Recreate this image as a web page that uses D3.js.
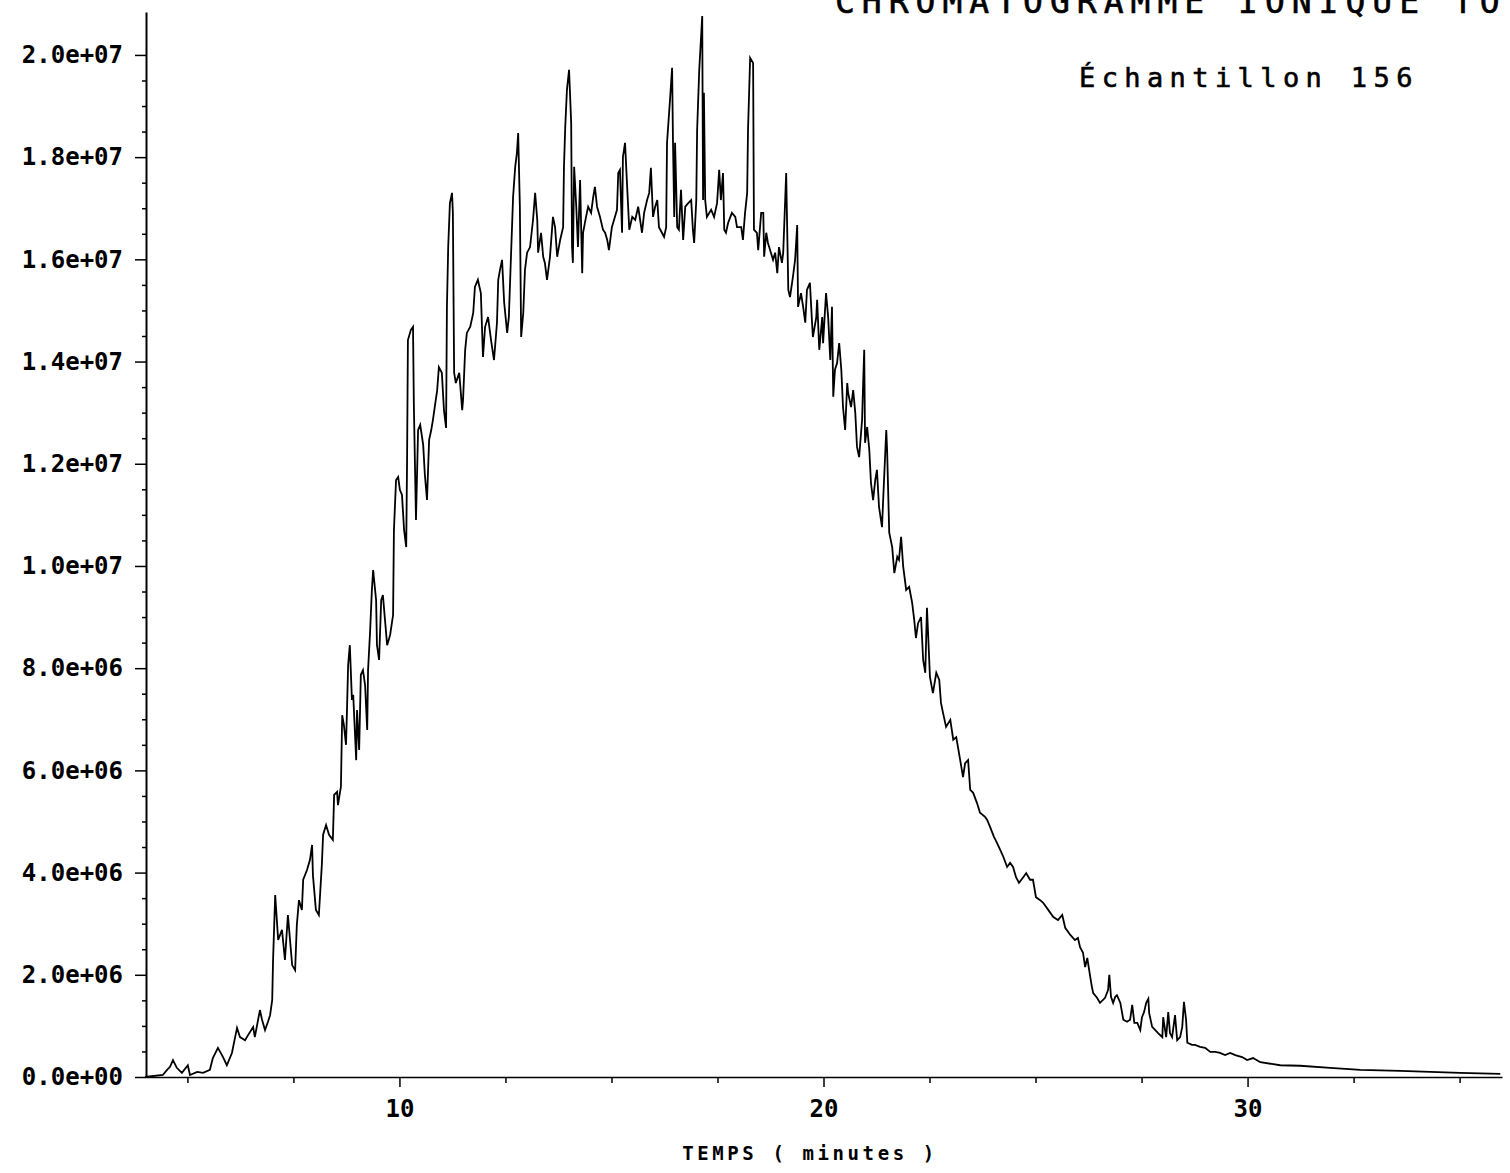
<!DOCTYPE html>
<html>
<head>
<meta charset="utf-8">
<script src="https://cdn.jsdelivr.net/npm/d3@7"></script>
<style>
  html, body { margin: 0; padding: 0; background: #fff; overflow: hidden; }
  svg { display: block; }
</style>
</head>
<body>
<svg id="chart" width="1510" height="1173"></svg>
<script>
// ---------------- DATA ----------------
const titleText = "CHROMATOGRAMME IONIQUE TOTAL";
const sampleText = "Échantillon 156";
const xAxisTitle = "TEMPS ( minutes )";

// retention time (minutes)
const timeMin = [
 4.00,4.42,4.52,4.59,4.66,4.75,4.87,5.01,5.06,5.23,5.37,5.53,5.60,5.72,5.84,5.93,6.05,6.17,6.24,6.36,
 6.43,6.55,6.59,6.71,6.76,6.83,6.90,6.95,7.00,7.02,7.07,7.14,7.23,7.30,7.37,7.47,7.54,7.58,7.63,7.70,
 7.73,7.82,7.89,7.94,7.96,8.03,8.10,8.17,8.20,8.27,8.34,8.43,8.46,8.53,8.55,8.62,8.65,8.69,8.74,8.76,
 8.79,8.83,8.88,8.91,8.98,9.00,9.05,9.09,9.14,9.19,9.24,9.26,9.31,9.35,9.38,9.45,9.47,9.52,9.57,9.61,
 9.66,9.71,9.78,9.85,9.87,9.92,9.97,10.01,10.06,10.11,10.16,10.18,10.20,10.27,10.32,10.34,10.39,10.44,10.49,10.56,
 10.60,10.65,10.70,10.75,10.79,10.89,10.93,11.00,11.05,11.10,11.12,11.15,11.19,11.24,11.26,11.29,11.33,11.41,11.48,11.50,
 11.55,11.59,11.67,11.74,11.78,11.85,11.92,11.97,12.02,12.09,12.16,12.23,12.30,12.33,12.37,12.42,12.47,12.54,12.58,12.63,
 12.68,12.73,12.77,12.80,12.84,12.87,12.92,12.96,13.01,13.08,13.15,13.20,13.25,13.27,13.34,13.39,13.43,13.48,13.55,13.62,
 13.67,13.72,13.79,13.86,13.88,13.91,13.95,14.00,14.05,14.07,14.09,14.12,14.17,14.21,14.26,14.31,14.33,14.40,14.45,14.52,
 14.57,14.61,14.66,14.73,14.80,14.85,14.90,14.94,15.01,15.06,15.13,15.16,15.20,15.25,15.27,15.32,15.37,15.42,15.49,15.56,
 15.63,15.72,15.77,15.84,15.89,15.93,15.98,16.03,16.08,16.12,16.19,16.24,16.29,16.31,16.38,16.43,16.45,16.48,16.50,16.55,
 16.59,16.64,16.69,16.74,16.81,16.88,16.92,16.95,17.00,17.02,17.07,17.14,17.16,17.18,17.21,17.25,17.35,17.42,17.49,17.54,
 17.58,17.63,17.66,17.70,17.75,17.84,17.92,17.96,18.06,18.10,18.15,18.20,18.22,18.27,18.34,18.36,18.43,18.46,18.53,18.58,
 18.60,18.65,18.69,18.76,18.81,18.86,18.91,18.95,19.02,19.05,19.12,19.17,19.21,19.28,19.33,19.38,19.40,19.47,19.52,19.57,
 19.61,19.68,19.73,19.75,19.83,19.85,19.90,19.97,19.99,20.06,20.11,20.16,20.20,20.23,20.27,20.32,20.37,20.42,20.46,20.51,
 20.56,20.58,20.65,20.70,20.75,20.79,20.84,20.91,20.93,20.96,20.98,21.03,21.08,21.12,21.17,21.22,21.26,21.31,21.38,21.41,
 21.48,21.50,21.55,21.62,21.67,21.74,21.78,21.83,21.88,21.95,22.02,22.09,22.14,22.18,22.23,22.30,22.35,22.40,22.44,22.47,
 22.51,22.58,22.66,22.73,22.77,22.82,22.89,22.99,23.06,23.13,23.17,23.25,23.29,23.34,23.41,23.46,23.53,23.62,23.69,23.81,
 23.86,23.93,24.02,24.09,24.17,24.24,24.33,24.40,24.47,24.54,24.61,24.71,24.78,24.87,24.94,25.01,25.11,25.18,25.30,25.42,
 25.53,25.63,25.70,25.82,25.93,26.00,26.05,26.12,26.17,26.22,26.29,26.33,26.36,26.45,26.52,26.64,26.71,26.74,26.78,26.83,
 26.88,26.92,27.00,27.07,27.16,27.23,27.28,27.33,27.40,27.47,27.51,27.56,27.61,27.66,27.68,27.75,27.82,27.89,27.99,28.01,
 28.08,28.13,28.17,28.22,28.29,28.34,28.41,28.46,28.50,28.55,28.58,28.69,28.76,28.88,29.00,29.12,29.24,29.35,29.47,29.59,
 29.71,29.87,29.99,30.13,30.30,30.77,31.24,31.95,32.66,33.60,34.31,35.01,35.96
];

// total ion current, in units of 1e6 counts
const intensityE6 = [
 0.00,0.04,0.14,0.20,0.33,0.18,0.08,0.23,0.04,0.10,0.08,0.14,0.37,0.57,0.39,0.23,0.47,0.96,0.78,0.72,
 0.82,0.98,0.78,1.31,1.12,0.92,1.08,1.21,1.51,2.29,3.56,2.68,2.88,2.29,3.17,2.19,2.09,2.97,3.46,3.27,
 3.86,4.05,4.25,4.54,3.95,3.27,3.17,4.15,4.74,4.93,4.74,4.64,5.52,5.58,5.32,5.68,7.08,6.89,6.50,7.08,
 8.06,8.45,7.38,7.48,6.20,7.18,6.40,7.87,7.96,7.67,6.79,7.96,8.75,9.53,9.92,9.33,8.45,8.16,9.33,9.43,
 8.94,8.45,8.65,9.04,10.70,11.68,11.74,11.49,11.39,10.70,10.37,12.07,14.42,14.62,14.68,13.15,10.90,12.66,12.76,12.37,
 11.78,11.29,12.47,12.66,12.86,13.44,13.89,13.78,13.05,12.70,15.07,16.24,17.10,17.30,16.91,13.78,13.58,13.78,13.05,13.25,
 14.23,14.56,14.68,14.95,15.46,15.60,15.34,14.09,14.68,14.87,14.42,14.03,14.76,15.60,15.79,15.99,15.15,14.56,14.87,16.05,
 17.22,17.81,18.08,18.47,17.03,14.48,14.95,15.79,16.13,16.24,16.77,17.30,16.77,16.13,16.52,16.05,15.93,15.60,16.05,16.83,
 16.63,16.05,16.38,16.63,17.81,18.59,19.32,19.71,18.67,16.24,15.93,17.81,17.03,16.24,17.55,15.73,16.52,16.83,17.03,16.91,
 17.22,17.42,17.03,16.83,16.58,16.52,16.38,16.18,16.63,16.77,16.97,17.69,17.75,16.52,18.00,18.28,17.42,16.58,16.83,16.77,
 17.03,16.52,16.91,17.16,17.30,17.79,16.83,17.03,17.16,16.63,16.52,16.44,16.63,18.28,19.12,19.75,18.34,16.83,18.28,16.63,
 16.58,17.36,16.38,17.03,17.10,17.16,16.58,16.32,17.16,18.53,19.71,20.76,17.16,19.26,17.16,16.83,16.97,16.83,17.10,17.75,
 17.16,17.69,16.58,16.52,16.71,16.91,16.83,16.63,16.63,16.38,16.91,17.30,18.53,19.94,19.84,16.58,16.52,16.18,16.91,16.91,
 16.05,16.52,16.32,16.13,15.99,16.13,15.73,16.24,15.93,16.13,17.69,15.40,15.26,15.66,15.99,16.67,15.07,15.34,15.07,14.76,
 15.40,15.54,14.76,14.48,14.87,15.21,14.23,14.87,14.36,15.34,14.87,14.03,15.07,13.31,13.84,13.97,14.36,13.84,13.11,12.66,
 13.58,13.39,13.11,13.44,12.99,12.33,12.13,12.86,13.44,14.23,12.41,12.72,12.27,11.62,11.29,11.68,11.88,11.15,10.76,11.35,
 12.66,12.27,10.65,10.37,9.86,10.18,10.12,10.57,9.98,9.53,9.59,9.28,8.94,8.59,8.88,9.00,8.16,7.91,9.18,8.61,
 7.83,7.51,7.91,7.77,7.32,7.12,6.85,6.99,6.60,6.65,6.46,6.07,5.87,6.14,6.20,5.62,5.56,5.36,5.17,5.09,
 5.03,4.89,4.70,4.58,4.44,4.31,4.11,4.19,4.11,3.91,3.80,3.91,3.99,3.86,3.86,3.52,3.46,3.41,3.27,3.13,
 3.07,3.17,2.92,2.78,2.68,2.72,2.54,2.43,2.15,2.33,1.96,1.76,1.64,1.55,1.45,1.55,1.70,2.00,1.57,1.45,
 1.57,1.60,1.45,1.12,1.08,1.12,1.41,1.06,1.06,0.92,1.17,1.27,1.45,1.53,1.25,0.98,0.92,0.86,0.78,1.17,
 0.78,1.27,0.86,0.78,1.21,0.72,0.78,0.98,1.47,1.12,0.67,0.63,0.63,0.59,0.57,0.49,0.49,0.47,0.43,0.47,
 0.43,0.39,0.33,0.37,0.29,0.23,0.22,0.18,0.14,0.12,0.10,0.08,0.06
];

const xDomain = [4, 36];
const yTop = 2.084e7;
const yMajorTicks = [0, 2e6, 4e6, 6e6, 8e6, 1e7, 1.2e7, 1.4e7, 1.6e7, 1.8e7, 2e7];
const yTickLabels = ["0.0e+00","2.0e+06","4.0e+06","6.0e+06","8.0e+06","1.0e+07","1.2e+07","1.4e+07","1.6e+07","1.8e+07","2.0e+07"];
const xMajorTicks = [10, 20, 30];
const xTickLabels = ["10", "20", "30"];
const xMinorTicks = [5, 7.5, 12.5, 15, 17.5, 22.5, 25, 27.5, 32.5, 35];

// ---------------- DRAW ----------------
const svg = d3.select("#chart");
const x = d3.scaleLinear().domain(xDomain).range([145, 1502]);
const y = d3.scaleLinear().domain([0, yTop]).range([1077, 12]);

const data = timeMin.map((t, i) => ({ t, v: intensityE6[i] * 1e6 }));

const yMinorTicks = d3.range(0, 2.05e7, 5e5).filter(v => !yMajorTicks.includes(v));

const tickFont = "'DejaVu Sans Mono', monospace";

// minor y ticks
svg.append("g").attr("transform", "translate(146,0)")
  .call(d3.axisLeft(y).tickValues(yMinorTicks).tickSize(4).tickFormat(""))
  .call(g => g.select(".domain").remove())
  .call(g => g.selectAll("line").attr("stroke", "#000").attr("stroke-width", 1.5));

// major y axis
svg.append("g").attr("transform", "translate(146,0)")
  .call(d3.axisLeft(y).tickValues(yMajorTicks).tickSize(11).tickSizeOuter(0).tickPadding(12)
        .tickFormat((d, i) => yTickLabels[i]))
  .call(g => g.select(".domain").attr("stroke", "#000").attr("stroke-width", 2))
  .call(g => g.selectAll("line").attr("stroke", "#000").attr("stroke-width", 1.5))
  .call(g => g.selectAll("text")
      .attr("font-family", tickFont).attr("font-weight", "bold")
      .attr("font-size", 24).attr("fill", "#000"));

// minor x ticks
svg.append("g").attr("transform", "translate(0,1077)")
  .call(d3.axisBottom(x).tickValues(xMinorTicks).tickSize(6).tickFormat(""))
  .call(g => g.select(".domain").remove())
  .call(g => g.selectAll("line").attr("stroke", "#000").attr("stroke-width", 1.5));

// major x axis
svg.append("g").attr("transform", "translate(0,1077)")
  .call(d3.axisBottom(x).tickValues(xMajorTicks).tickSize(10).tickSizeOuter(0).tickPadding(13)
        .tickFormat((d, i) => xTickLabels[i]))
  .call(g => g.select(".domain").attr("stroke", "#000").attr("stroke-width", 1.5))
  .call(g => g.selectAll("line").attr("stroke", "#000").attr("stroke-width", 1.5))
  .call(g => g.selectAll("text")
      .attr("font-family", tickFont).attr("font-weight", "bold")
      .attr("font-size", 24).attr("fill", "#000"));

// chromatogram trace
const line = d3.line().x(d => x(d.t)).y(d => y(d.v));
svg.append("path").datum(data)
  .attr("d", line)
  .attr("fill", "none")
  .attr("stroke", "#000")
  .attr("stroke-width", 1.8)
  .attr("stroke-linejoin", "miter");

// texts
svg.append("text")
  .attr("x", 835).attr("y", 13)
  .attr("font-family", tickFont).attr("font-size", 33)
  .attr("letter-spacing", 7).attr("fill", "#000")
  .attr("stroke", "#000").attr("stroke-width", 0.6)
  .text(titleText);

svg.append("text")
  .attr("x", 1079).attr("y", 87)
  .attr("font-family", tickFont).attr("font-size", 27)
  .attr("letter-spacing", 6.4).attr("fill", "#000")
  .attr("stroke", "#000").attr("stroke-width", 0.6)
  .text(sampleText);

svg.append("text")
  .attr("x", 810).attr("y", 1160)
  .attr("text-anchor", "middle")
  .attr("font-family", tickFont).attr("font-size", 19)
  .attr("font-weight", "bold")
  .attr("letter-spacing", 3.6).attr("fill", "#000")
  .text(xAxisTitle);
</script>
</body>
</html>
